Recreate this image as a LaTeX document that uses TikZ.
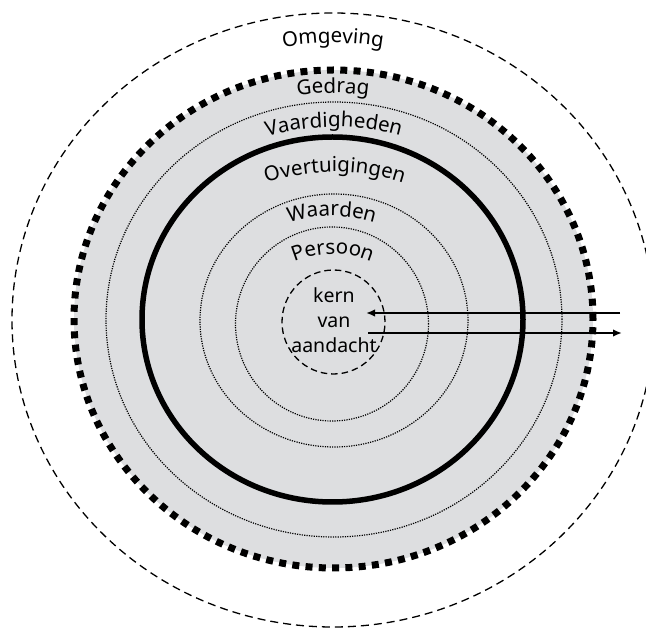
\documentclass[tikz,border=0pt]{standalone}
\usepackage{fontspec}
\setmainfont{Noto Sans}
\usepackage{tikz}
\usetikzlibrary{arrows.meta, decorations.text}
\definecolor{ringgray}{RGB}{221,222,224}
\newcommand{\lblfont}{\fontsize{20.5}{24}\selectfont}
\newcommand{\kernfont}{\fontsize{19.5}{25}\selectfont}

\begin{document}
\begin{tikzpicture}[
            outer/.style={line width=1.3pt, dash pattern=on 8pt off 5pt},
            border/.style={line width=7pt, dash pattern=on 7pt off 6.3pt},
            ring/.style={line width=1.2pt, dash pattern=on 1.2pt off 1.2pt},
            belief/.style={line width=5.5pt},
            core/.style={line width=1.3pt, dash pattern=on 6.5pt off 4pt},
            flow/.style={line width=2pt, ->},
            arclabel/.style={decorate, decoration={text along path, text align=center, text={|\lblfont|#1}}},
            >={Latex[length=9pt, width=7.5pt]}, x=1pt, y=1pt]

        \useasboundingbox (0,0) rectangle (646,630);

        % layers, from outside to inside
        \fill[ringgray] (333.5,311) ellipse [x radius=259.5, y radius=249];
        \draw[outer] (333,310) ellipse [x radius=321, y radius=307];
        \draw[border] (333.5,311) ellipse [x radius=259.5, y radius=249];
        \draw[ring] (334,310.5) ellipse [x radius=228, y radius=217.5];
        \draw[belief] (332.5,310.5) ellipse [x radius=190.5, y radius=182.5];
        \draw[ring] (334,309.5) ellipse [x radius=134, y radius=126.5];
        \draw[ring] (332,306) ellipse [x radius=96.5, y radius=97];
        \draw[core] (333.5,308) ellipse [x radius=51.5, y radius=52];

        % labels along the rings
        \path[arclabel={Omgeving}] (333,287) ++(140:300) arc [start angle=140, end angle=40, radius=300];
        \path[arclabel={Gedrag}] (333,287) ++(140:250) arc [start angle=140, end angle=40, radius=250];
        \path[arclabel={Vaardigheden}] (334,253) ++(140:250) arc [start angle=140, end angle=40, radius=250];
        \path[arclabel={Overtuigingen}] (335,238) ++(140:220) arc [start angle=140, end angle=40, radius=220];
        \path[arclabel={Waarden}] (332,264) ++(140:150) arc [start angle=140, end angle=40, radius=150];
        \path[arclabel={Persoon}] (333,276) ++(140:100) arc [start angle=140, end angle=40, radius=100];

        \node[align=center, font=\kernfont] (kern) at (334,310) {kern\\van\\aandacht};

        \coordinate (inR) at (620,317);
        \coordinate (inL) at (366,317);
        \coordinate (outL) at (368,297);
        \coordinate (outR) at (622,297);

        \draw[flow] (inR) -- (inL);
        \draw[flow] (outL) -- (outR);
    \end{tikzpicture}
\end{document}
